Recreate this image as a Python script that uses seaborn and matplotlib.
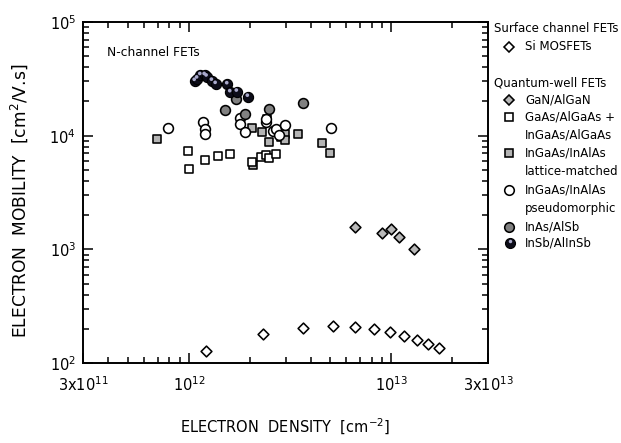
import matplotlib
matplotlib.use("Agg")
import matplotlib.pyplot as plt
import matplotlib.transforms as mtransforms
from matplotlib.lines import Line2D
from matplotlib.ticker import FixedLocator, LogLocator, NullFormatter
import seaborn as sns
import pandas as pd

# ---------------- data (density [cm^-2], mobility [cm^2/V.s]) ----------------
si_x = [1.21e12, 2.32e12, 3.68e12, 5.13e12, 6.64e12, 8.17e12, 9.9e12, 1.15e13, 1.34e13, 1.52e13, 1.71e13]
si_y = [128, 180, 202, 212, 209, 199, 186, 174, 159, 147, 135]

gan_x = [6.64e12, 8.98e12, 9.95e12, 1.09e13, 1.29e13]
gan_y = [1571, 1383, 1500, 1291, 1000]

gaas_x = [9.89e11, 1.0e12, 1.195e12, 1.39e12, 1.59e12, 2.04e12, 2.27e12, 2.39e12, 2.48e12, 2.69e12]
gaas_y = [7350, 5070, 6090, 6670, 6880, 5880, 6530, 6740, 6300, 6850]

lm_x = [6.99e11, 2.04e12, 2.29e12, 2.43e12, 2.48e12, 2.85e12, 2.98e12, 2.98e12, 3.47e12, 4.55e12, 4.95e12, 2.08e12]
lm_y = [9300, 11600, 10800, 13900, 8710, 9700, 10300, 9130, 10300, 8590, 7110, 5500]

pm_x = [7.88e11, 1.168e12, 1.195e12, 1.195e12, 1.78e12, 1.79e12, 1.90e12, 2.39e12, 2.41e12, 2.59e12, 2.70e12, 2.80e12, 2.98e12, 5.06e12]
pm_y = [11600, 13100, 11400, 10300, 14300, 12600, 10700, 13100, 14000, 11100, 11400, 10100, 12500, 11600]

inas_x = [1.70e12, 1.50e12, 1.90e12, 2.50e12, 3.67e12]
inas_y = [20900, 16800, 15400, 17300, 19400]

insb_x = [1.067e12, 1.097e12, 1.138e12, 1.195e12, 1.222e12, 1.298e12, 1.354e12, 1.545e12, 1.599e12, 1.723e12, 1.953e12]
insb_y = [30200, 31700, 34000, 34000, 33000, 30300, 28400, 28200, 24000, 24300, 21900]

x_ticks = [3e11, 1e12, 1e13, 3e13]
x_ticklabels = [r"3x$10^{11}$", r"$10^{12}$", r"$10^{13}$", r"3x$10^{13}$"]
y_ticks = [1e2, 1e3, 1e4, 1e5]
y_ticklabels = [r"$10^{2}$", r"$10^{3}$", r"$10^{4}$", r"$10^{5}$"]

legend_header_1 = "Surface channel FETs"
legend_header_2 = "Quantum-well FETs"

# ---------------- style ----------------
sns.set_style("ticks")
plt.rcParams["font.family"] = ["DejaVu Sans"]
plt.rcParams["mathtext.fontset"] = "dejavusans"
for k in ["text.color", "axes.labelcolor", "xtick.color", "ytick.color", "axes.edgecolor"]:
    plt.rcParams[k] = "black"

W, H = 621, 443
fig = plt.figure(figsize=(W / 100, H / 100), dpi=100)
ax = fig.add_axes([83 / W, 1 - 363 / H, 405 / W, 341 / H])

def fx(px):
    return px / W

def fy(py):
    return 1 - py / H

EW = 1.15  # marker edge width
series = [
    # (x, y, marker, size, face)
    (lm_x, lm_y, "s", 36, "#b4b4b4"),
    (gaas_x, gaas_y, "s", 36, "white"),
    (pm_x, pm_y, "o", 50, "white"),
    (inas_x, inas_y, "o", 50, "#808080"),
    (si_x, si_y, "D", 30, "white"),
    (gan_x, gan_y, "D", 30, "#b8b8b8"),
]
for xs, ys, m, s, fc in series:
    df = pd.DataFrame({"x": xs, "y": ys})
    sns.scatterplot(data=df, x="x", y="y", ax=ax, marker=m, s=s, color=fc,
                    edgecolor="black", linewidth=EW, legend=False, zorder=3)

# InSb/AlInSb shaded spheres
df_b = pd.DataFrame({"x": insb_x, "y": insb_y})
sns.scatterplot(data=df_b, x="x", y="y", ax=ax, marker="o", s=54, color="#0c0c18",
                edgecolor="#000000", linewidth=0.8, legend=False, zorder=4)
hl = mtransforms.offset_copy(ax.transData, fig=fig, x=-0.3, y=1.3, units="points")
ax.scatter(insb_x, insb_y, s=7, color="#aaaacc", edgecolors="none", transform=hl, zorder=5)

ax.set_xscale("log")
ax.set_yscale("log")
ax.set_xlim(3e11, 3e13)
ax.set_ylim(1e2, 1e5)

ax.xaxis.set_major_locator(FixedLocator(x_ticks))
ax.set_xticklabels(x_ticklabels)
ax.xaxis.set_minor_locator(LogLocator(base=10, subs=range(2, 10)))
ax.xaxis.set_minor_formatter(NullFormatter())
ax.yaxis.set_major_locator(FixedLocator(y_ticks))
ax.set_yticklabels(y_ticklabels)
ax.yaxis.set_minor_locator(LogLocator(base=10, subs=range(2, 10)))
ax.yaxis.set_minor_formatter(NullFormatter())

ax.tick_params(which="both", direction="in", top=True, right=True, color="black",
               labelcolor="black", width=1.1)
ax.tick_params(which="major", length=7)
ax.tick_params(which="minor", length=4.3)
ax.tick_params(axis="x", which="major", labelsize=10.5, pad=9)
ax.tick_params(axis="y", which="major", labelsize=10.5, pad=5)
for sp in ax.spines.values():
    sp.set_linewidth(1.4)
    sp.set_color("black")
    sp.set_visible(True)

ax.set_xlabel(r"ELECTRON  DENSITY  [cm$^{-2}$]", fontsize=10.5, color="black")
ax.set_ylabel(r"ELECTRON  MOBILITY  [cm$^{2}$/V.s]", fontsize=12.3, color="black")
ax.xaxis.set_label_coords(0.5, (363 - 417) / 341)
ax.yaxis.set_label_coords((30 - 83) / 405, 0.475)

ax.text(fx(107), fy(53), "N-channel FETs", transform=fig.transFigure, fontsize=8.8,
        ha="left", va="center", color="black")

# ---------------- legend (manual, outside axes) ----------------
FS = 8.5
fig.text(fx(494), fy(28), legend_header_1, fontsize=FS, va="center", ha="left", color="black")
fig.text(fx(494), fy(83), legend_header_2, fontsize=FS, va="center", ha="left", color="black")

entries = [
    (47, "D", 5.4, "white", ["Si MOSFETs"]),
    (100, "D", 5.4, "#b8b8b8", ["GaN/AlGaN"]),
    (117, "s", 5.8, "white", ["GaAs/AlGaAs +", "InGaAs/AlGaAs"]),
    (153, "s", 5.8, "#b4b4b4", ["InGaAs/InAlAs", "lattice-matched"]),
    (190, "o", 6.9, "white", ["InGaAs/InAlAs", "pseudomorphic"]),
    (227, "o", 6.9, "#808080", ["InAs/AlSb"]),
]
for py, m, ms, fc, lines in entries:
    fig.add_artist(Line2D([fx(509)], [fy(py)], marker=m, markersize=ms, markerfacecolor=fc,
                          markeredgecolor="black", markeredgewidth=EW, linestyle="none",
                          transform=fig.transFigure))
    for i, t in enumerate(lines):
        fig.text(fx(525), fy(py + i * 18.5), t, fontsize=FS, va="center", ha="left", color="black")

fig.add_artist(Line2D([fx(510)], [fy(243)], marker="o", markersize=7.2, markerfacecolor="#0c0c18",
                      markeredgecolor="black", markeredgewidth=0.8, linestyle="none",
                      transform=fig.transFigure))
fig.add_artist(Line2D([fx(509.6)], [fy(241.3)], marker="o", markersize=2.5, markerfacecolor="#aaaacc",
                      markeredgecolor="none", linestyle="none", transform=fig.transFigure))
fig.text(fx(525), fy(243), "InSb/AlInSb", fontsize=FS, va="center", ha="left", color="black")

fig.savefig("out.png", dpi=100)
